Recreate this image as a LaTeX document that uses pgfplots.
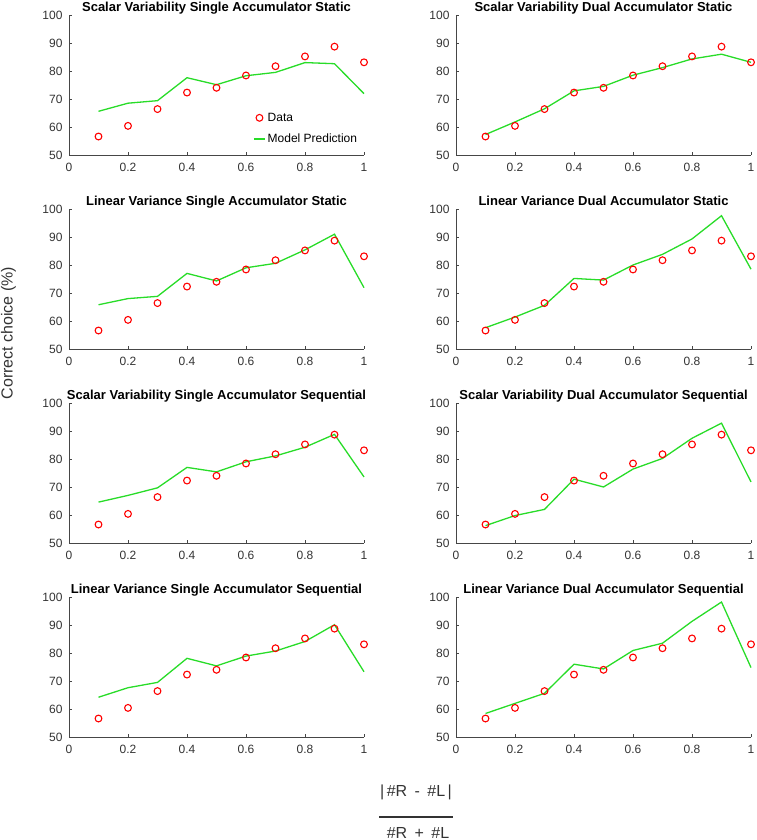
\documentclass[border=0pt]{standalone}
\usepackage{pgfplots}
\usepackage{pgfplotstable}
\usepackage{fontspec}
\setmainfont{Liberation Sans}
\pgfplotsset{compat=1.18}
\definecolor{mgreen}{RGB}{40,220,40}
\definecolor{axgray}{RGB}{70,70,70}

\pgfplotstableread{
x    d     m1    m2    m3    m4    m5    m6    m7    m8
0.1  56.6  65.6  57.3  65.8  57.6  64.6  56.2  64.2  58.4
0.2  60.4  68.5  61.8  68.0  61.4  67.0  59.8  67.6  62.0
0.3  66.4  69.4  66.5  68.8  65.6  69.7  62.0  69.5  65.6
0.4  72.3  77.6  72.9  77.0  75.2  77.0  72.8  78.1  76.0
0.5  74.0  75.1  74.5  74.3  74.6  75.4  70.0  75.4  74.3
0.6  78.4  78.3  78.5  79.0  80.0  79.0  76.4  78.9  80.9
0.7  81.7  79.5  81.2  80.6  83.8  81.1  80.2  80.7  83.5
0.8  85.2  83.0  84.3  85.4  89.3  84.2  87.4  84.1  91.3
0.9  88.7  82.6  86.0  91.0  97.6  88.8  92.8  90.1  98.2
1.0  83.1  71.9  83.1  71.9  78.5  73.6  71.8  73.3  74.8
}\T

\pgfplotsset{
  panel/.style={
    scale only axis, width=295pt, height=140pt,
    xmin=0, xmax=1, ymin=50, ymax=100,
    axis lines*=left,
    axis line style={axgray, line width=0.9pt},
    xtick={0,0.2,0.4,0.6,0.8,1}, ytick={50,60,70,80,90,100},
    tick align=inside, major tick length=3pt,
    tick style={axgray, line width=0.9pt},
    ticklabel style={font=\fontsize{12}{14}\selectfont, text=black!80},
    xticklabel style={yshift=-5pt},
    yticklabel style={xshift=-3pt},
    /pgf/number format/assume math mode=true,
    title style={at={(0.5,1)}, anchor=base, yshift=-2.5pt, font=\bfseries\fontsize{13}{15}\selectfont},
    clip=false,
  },
  dat/.style={only marks, mark=o, mark size=3.4pt, mark options={draw=red, line width=1.1pt},
    legend image code/.code={\draw[mark repeat=2,mark phase=2,##1] plot coordinates {(0pt,0pt) (5.5pt,0pt) (11pt,0pt)};}},
  mod/.style={mgreen, line width=1.3pt, no marks,
    legend image code/.code={\draw[mgreen, line width=1.4pt] (0pt,0pt) -- (11pt,0pt);}},
}

\begin{document}
\begin{tikzpicture}
\useasboundingbox (0pt,0pt) rectangle (756pt,840pt);

% Row 1
\begin{axis}[panel, at={(69pt,685pt)}, anchor=south west,
  title={Scalar Variability Single Accumulator Static},
  legend style={draw=none, fill=none, at={(rel axis cs:0.624,0.316)}, anchor=north west,
    font=\fontsize{12}{14}\selectfont, row sep=7pt, inner sep=0pt},
  legend cell align=left]
\addplot[dat] table[x=x,y=d]{\T};
\addlegendentry{Data}
\addplot[mod] table[x=x,y=m1]{\T};
\addlegendentry{Model Prediction}
\end{axis}
\begin{axis}[panel, at={(456pt,685pt)}, anchor=south west,
  title={Scalar Variability Dual Accumulator Static}]
\addplot[dat] table[x=x,y=d]{\T};
\addplot[mod] table[x=x,y=m2]{\T};
\end{axis}

% Row 2
\begin{axis}[panel, at={(69pt,491pt)}, anchor=south west,
  title={Linear Variance Single Accumulator Static}]
\addplot[dat] table[x=x,y=d]{\T};
\addplot[mod] table[x=x,y=m3]{\T};
\end{axis}
\begin{axis}[panel, at={(456pt,491pt)}, anchor=south west,
  title={Linear Variance Dual Accumulator Static}]
\addplot[dat] table[x=x,y=d]{\T};
\addplot[mod] table[x=x,y=m4]{\T};
\end{axis}

% Row 3
\begin{axis}[panel, at={(69pt,297pt)}, anchor=south west,
  title={Scalar Variability Single Accumulator Sequential}]
\addplot[dat] table[x=x,y=d]{\T};
\addplot[mod] table[x=x,y=m5]{\T};
\end{axis}
\begin{axis}[panel, at={(456pt,297pt)}, anchor=south west,
  title={Scalar Variability Dual Accumulator Sequential}]
\addplot[dat] table[x=x,y=d]{\T};
\addplot[mod] table[x=x,y=m6]{\T};
\end{axis}

% Row 4
\begin{axis}[panel, at={(69pt,103pt)}, anchor=south west,
  title={Linear Variance Single Accumulator Sequential}]
\addplot[dat] table[x=x,y=d]{\T};
\addplot[mod] table[x=x,y=m7]{\T};
\end{axis}
\begin{axis}[panel, at={(456pt,103pt)}, anchor=south west,
  title={Linear Variance Dual Accumulator Sequential}]
\addplot[dat] table[x=x,y=d]{\T};
\addplot[mod] table[x=x,y=m8]{\T};
\end{axis}

\node[rotate=90, font=\fontsize{16}{18}\selectfont, text=black!80] at (8.5pt,507pt) {Correct choice (\%)};
\node[anchor=base, inner sep=0pt, font=\fontsize{16}{18}\selectfont, text=black!80] at (416pt,43pt)
  {\textbar\hspace{2.5pt}\#R\hspace{3pt} - \hspace{3pt}\#L\hspace{2.5pt}\textbar};
\draw[black!80, line width=1.3pt] (379pt,23pt) -- (453pt,23pt);
\node[anchor=base, inner sep=0pt, font=\fontsize{16}{18}\selectfont, text=black!80] at (418pt,1.5pt)
  {\#R\hspace{3pt} + \hspace{3pt}\#L};
\end{tikzpicture}
\end{document}
